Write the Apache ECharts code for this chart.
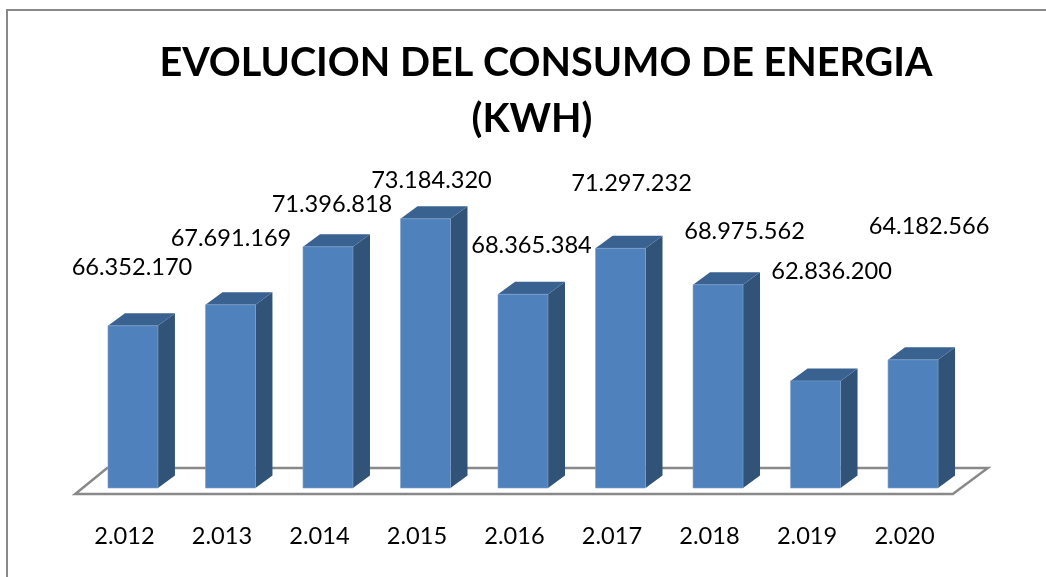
<!DOCTYPE html>
<html>
<head>
<meta charset="utf-8">
<style>
html, body { margin: 0; padding: 0; background: #fff; }
#chart { width: 1046px; height: 577px; }
</style>
<script src="https://cdn.jsdelivr.net/npm/echarts@6/dist/echarts.min.js"></script>
</head>
<body>
<div id="chart"></div>
<script>
const years = ['2.012', '2.013', '2.014', '2.015', '2.016', '2.017', '2.018', '2.019', '2.020']
const consumo = [66352170, 67691169, 71396818, 73184320, 68365384, 71297232, 68975562, 62836200, 64182566]

// nudges of each label from the top of its bar, the source places them by hand
const labelDx = [-1, 0.5, 4, 6, 8.5, 11, 26.5, 16, 16]
const labelDy = [-58, -66, -42, -38, -49, -65, -53, -110, -133]

const FONT = 'Lato'
const DX = 17 // depth of the 3d look
const DY = -12.5
const GREY = '#898989'

function formatNum (v) {
    return String(v).replace(/\B(?=(\d{3})+$)/g, '.')
}

const chart = echarts.init(document.getElementById('chart'))

const titleStyle = {
    fontFamily: FONT,
    fontWeight: 'bold',
    fontSize: 39.6,
    color: '#000'
}

chart.setOption({
    animation: false,
    title: [
        { text: 'EVOLUCION DEL CONSUMO DE ENERGIA', left: 541, top: 38, textAlign: 'center', textStyle: titleStyle },
        { text: '(KWH)', left: 527, top: 94, textAlign: 'center', textStyle: titleStyle }
    ],
    graphic: [
        {
            type: 'polyline',
            shape: { points: [[7, 577], [7, 10], [1046, 10]] },
            style: { fill: null, stroke: GREY, lineWidth: 2 }
        }
    ],
    grid: { left: 84.2, right: 84.2, top: 206, bottom: 89 },
    xAxis: {
        type: 'category',
        data: years,
        axisLine: { show: false },
        axisTick: { show: false },
        axisLabel: {
            fontFamily: FONT,
            fontSize: 23.6,
            color: '#000',
            margin: 36,
            padding: [0, 17, 0, 0]
        }
    },
    yAxis: {
        type: 'value',
        min: 56000000,
        max: 74000000,
        interval: 2000000,
        show: false,
        splitLine: { show: false }
    },
    series: [
        {
            // the floor of the 3d chart
            type: 'custom',
            z: 1,
            silent: true,
            data: [0],
            encode: { x: -1, y: -1 },
            renderItem: function (params, api) {
                const r = params.coordSys
                const yFront = r.y + r.height + 6
                const yBack = r.y + r.height - 20
                return {
                    type: 'polygon',
                    shape: {
                        points: [
                            [r.x - 9, yFront],
                            [r.x + r.width - 9, yFront],
                            [r.x + r.width + 26, yBack],
                            [r.x + 23, yBack]
                        ]
                    },
                    style: { fill: '#fff', stroke: GREY, lineWidth: 2.5 }
                }
            }
        },
        {
            type: 'custom',
            z: 2,
            data: consumo.map((v, i) => [i, v]),
            encode: { x: 0, y: 1 },
            renderItem: function (params, api) {
                const i = api.value(0)
                const v = api.value(1)
                const top = api.coord([i, v])
                const base = api.coord([i, 56000000])
                const w = 50
                const x0 = top[0] - w / 2
                const x1 = top[0] + w / 2
                const y0 = top[1]
                const y1 = base[1]
                return {
                    type: 'group',
                    children: [
                        {
                            type: 'polygon',
                            shape: { points: [[x1, y0], [x1 + DX, y0 + DY], [x1 + DX, y1 + DY], [x1, y1]] },
                            style: { fill: '#325378' }
                        },
                        {
                            type: 'polygon',
                            shape: { points: [[x0, y0], [x0 + DX, y0 + DY], [x1 + DX, y0 + DY], [x1, y0]] },
                            style: { fill: '#3a6291' }
                        },
                        {
                            type: 'rect',
                            shape: { x: x0, y: y0, width: w, height: y1 - y0 },
                            style: { fill: '#4f81bd', stroke: '#7fa3cf', lineWidth: 0.6 }
                        },
                        {
                            type: 'text',
                            z2: 5,
                            style: {
                                text: formatNum(v),
                                x: top[0] + labelDx[i],
                                y: y0 + labelDy[i],
                                align: 'center',
                                verticalAlign: 'middle',
                                fontFamily: FONT,
                                fontSize: 23.6,
                                fill: '#000'
                            }
                        }
                    ]
                }
            }
        }
    ]
})
</script>
</body>
</html>
